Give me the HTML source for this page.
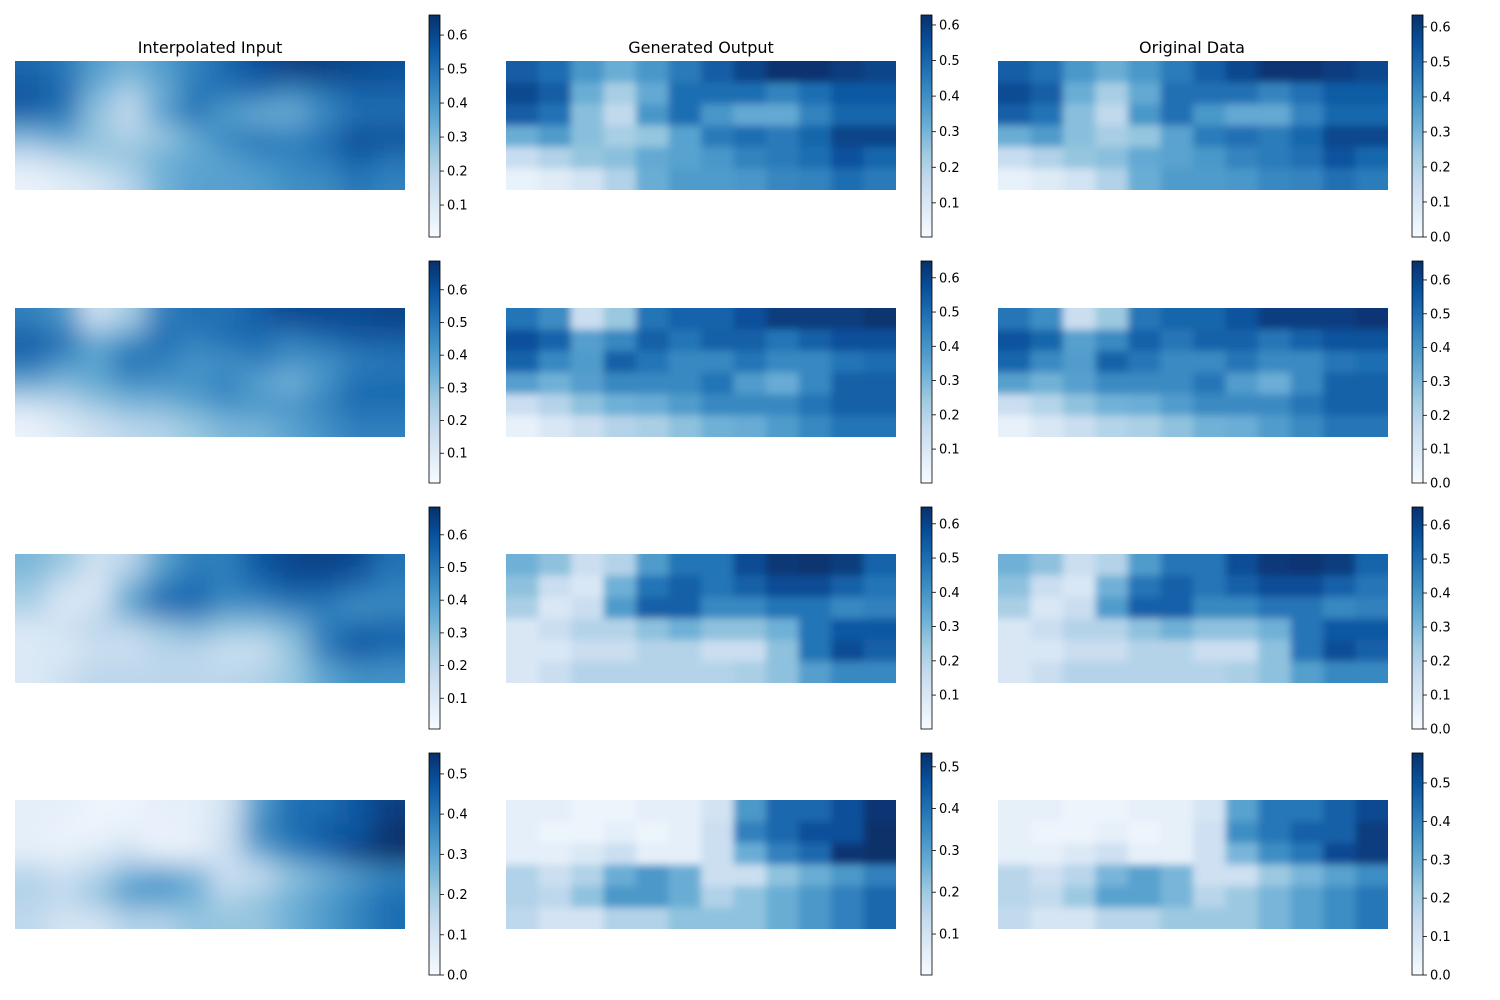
<!DOCTYPE html>
<html><head><meta charset="utf-8"><style>
body{margin:0;background:#fff;font-family:"Liberation Sans","DejaVu Sans",sans-serif}
svg{display:block}
text{font-family:"DejaVu Sans","Liberation Sans",sans-serif}
</style></head><body>
<svg id="fig" width="1500" height="1000" viewBox="0 0 1500 1000">
<defs id="defs">
<filter id="blurS" x="-50%" y="-50%" width="200%" height="200%"><feGaussianBlur stdDeviation="13"/></filter>
<filter id="blurM" x="-50%" y="-50%" width="200%" height="200%"><feGaussianBlur stdDeviation="4"/></filter>
<linearGradient id="blues" x1="0" y1="1" x2="0" y2="0">
<stop offset="0" stop-color="#f7fbff"/><stop offset="0.125" stop-color="#deebf7"/><stop offset="0.25" stop-color="#c6dbef"/><stop offset="0.375" stop-color="#9ecae1"/><stop offset="0.5" stop-color="#6baed6"/><stop offset="0.625" stop-color="#4292c6"/><stop offset="0.75" stop-color="#2171b5"/><stop offset="0.875" stop-color="#08519c"/><stop offset="1" stop-color="#08306b"/>
</linearGradient>
</defs>
<text x="210" y="53" text-anchor="middle" font-size="16">Interpolated Input</text>
<text x="701" y="53" text-anchor="middle" font-size="16">Generated Output</text>
<text x="1192" y="53" text-anchor="middle" font-size="16">Original Data</text>
</svg>
<script>
const field1 = [
[.52,.48,.38,.32,.38,.45,.52,.58,.62,.62,.60,.58],
[.57,.52,.32,.22,.33,.48,.48,.48,.43,.48,.53,.53],
[.52,.47,.27,.17,.38,.48,.38,.33,.33,.43,.50,.50],
[.32,.37,.27,.22,.25,.35,.45,.48,.45,.50,.58,.58],
[.15,.20,.25,.27,.33,.35,.38,.43,.45,.48,.55,.50],
[.05,.08,.12,.20,.32,.37,.37,.38,.42,.43,.48,.45]];
const field2 = [
[.48,.42,.15,.25,.48,.52,.52,.57,.62,.62,.62,.64],
[.57,.52,.37,.43,.53,.48,.53,.53,.48,.53,.57,.57],
[.52,.43,.38,.53,.48,.43,.43,.48,.43,.43,.48,.50],
[.37,.32,.37,.43,.43,.43,.48,.38,.33,.43,.53,.53],
[.15,.20,.27,.32,.33,.38,.43,.43,.43,.48,.53,.53],
[.05,.10,.15,.20,.22,.27,.32,.33,.38,.43,.48,.48]];
const field3 = [
[.32,.27,.15,.20,.38,.48,.48,.58,.63,.64,.62,.52],
[.27,.15,.10,.32,.48,.53,.48,.53,.58,.58,.53,.48],
[.22,.10,.15,.38,.53,.53,.43,.43,.48,.48,.43,.45],
[.10,.15,.20,.20,.27,.32,.27,.27,.32,.48,.55,.55],
[.10,.10,.15,.15,.20,.20,.15,.15,.27,.48,.58,.53],
[.10,.15,.20,.20,.20,.20,.20,.22,.27,.37,.43,.43]];
const field4 = [
[.05,.05,.03,.03,.05,.05,.10,.32,.42,.42,.47,.52],
[.05,.03,.03,.05,.03,.05,.12,.37,.42,.47,.47,.55],
[.05,.05,.08,.12,.05,.05,.12,.27,.37,.42,.52,.55],
[.17,.12,.17,.27,.32,.27,.12,.12,.22,.27,.32,.37],
[.17,.15,.22,.32,.32,.27,.17,.22,.27,.32,.37,.42],
[.15,.10,.10,.17,.17,.22,.22,.22,.27,.32,.37,.42]];
const fields = [field1, field2, field3, field4];
const cbMin = [[.006,.004,0],[.009,.001,0],[.006,.001,0],[0,.002,0]];
const cbMax = [[.659,.628,.634],[.688,.649,.656],[.685,.649,.653],[.552,.533,.578]];
const ticksA = [0.1,0.2,0.3,0.4,0.5,0.6];
const ticksB = [0.0,0.1,0.2,0.3,0.4,0.5,0.6];
const ticksC = [0.0,0.1,0.2,0.3,0.4,0.5];
const ticksD = [0.1,0.2,0.3,0.4,0.5];
const tickSets = [[ticksA,ticksA,ticksB],[ticksA,ticksA,ticksB],[ticksA,ticksA,ticksB],[ticksC,ticksD,ticksC]];

const NS="http://www.w3.org/2000/svg";
const svg=document.getElementById('fig');
const defs=document.getElementById('defs');
const stops=[[0,[247,251,255]],[.125,[222,235,247]],[.25,[198,219,239]],[.375,[158,202,225]],[.5,[107,174,214]],[.625,[66,146,198]],[.75,[33,113,181]],[.875,[8,81,156]],[1,[8,48,107]]];
function cmap(t){t=Math.max(0,Math.min(1,t));for(let i=1;i<stops.length;i++){if(t<=stops[i][0]){const a=stops[i-1],b=stops[i];const f=(t-a[0])/(b[0]-a[0]);const c=a[1].map((v,k)=>Math.round(v+(b[1][k]-v)*f));return `rgb(${c})`;}}return 'rgb(8,48,107)';}
function mk(tag,attrs,parent){const e=document.createElementNS(NS,tag);for(const k in attrs)e.setAttribute(k,attrs[k]);(parent||svg).appendChild(e);return e;}
const colX=[15,506,998], panelW=390;
const rowY=[61,308,554,800], panelH=129;
const cbX=[429,921,1412], cbW=11;
const cbTop=[15,261,507,753], cbH=222;
const colNames=['interpolated','generated','original'];
const PAD=40;
for(let r=0;r<4;r++){
  const f=fields[r];
  for(let c=0;c<3;c++){
    const vmin=cbMin[r][c], vmax=cbMax[r][c];
    const cp=mk('clipPath',{id:`clip${r}${c}`},defs);
    mk('rect',{x:colX[c],y:rowY[r],width:panelW,height:panelH},cp);
    const outer=mk('g',{'clip-path':`url(#clip${r}${c})`});
    
    
    const g=mk('g',{filter:c===0?'url(#blurS)':'url(#blurM)'},outer);
    const nr=f.length, nc=f[0].length, cw=panelW/nc, ch=panelH/nr;
    for(let i=0;i<nr;i++)for(let j=0;j<nc;j++){
      let x=colX[c]+j*cw, y=rowY[r]+i*ch, w=cw+0.5, h=ch+0.5;
      if(j===0){x-=PAD;w+=PAD;} if(j===nc-1){w+=PAD;}
      if(i===0){y-=PAD;h+=PAD;} if(i===nr-1){h+=PAD;}
      const cell=mk('rect',{x:x,y:y,width:w,height:h,fill:cmap((f[i][j]-vmin)/(vmax-vmin))},g);
      
      
    }
    const cb=mk('g',{});
    
    
    const x=cbX[c], y0=cbTop[r];
    mk('rect',{x:x,y:y0,width:cbW,height:cbH,fill:'url(#blues)',stroke:'#000','stroke-width':0.8},cb);
    const yv=v=>y0+cbH-(v-vmin)/(vmax-vmin)*cbH;
    for(const t of tickSets[r][c]){
      const yy=yv(t);
      mk('line',{x1:x+cbW,x2:x+cbW+4,y1:yy,y2:yy,stroke:'#000','stroke-width':0.8},cb);
      const tx=mk('text',{x:x+cbW+7,y:yy+4.5,'font-size':13},cb);
      tx.textContent=t.toFixed(1);
      
      
    }
  }
}
</script>
</body></html>
